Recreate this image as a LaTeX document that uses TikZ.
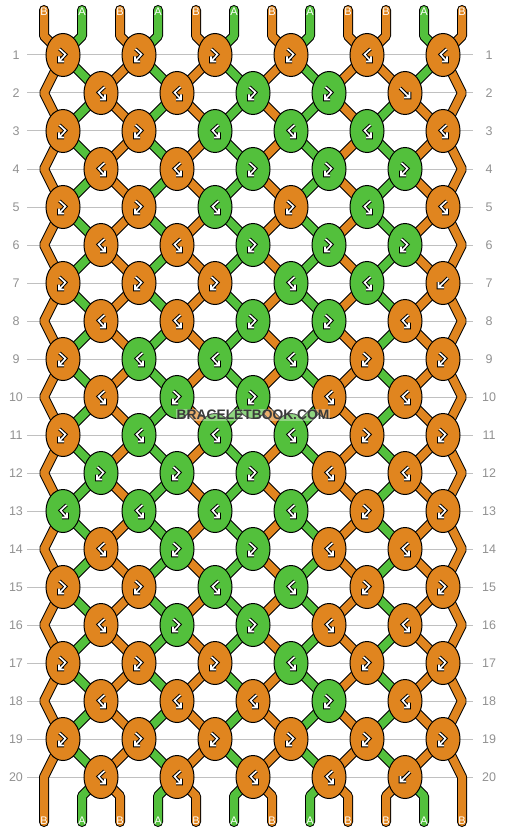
\documentclass[tikz,border=0pt]{standalone}
\usepackage{fontspec}
\setmainfont{Liberation Sans}
\usetikzlibrary{shapes.geometric,backgrounds}

\definecolor{B}{RGB}{224,133,31}
\definecolor{A}{RGB}{83,192,60}
\definecolor{rule}{RGB}{192,192,192}
\definecolor{numgray}{RGB}{145,145,145}
\definecolor{wmgray}{RGB}{58,58,58}

\begin{document}
\begin{tikzpicture}[x=1pt,y=-1pt,
    knot/.style={ellipse,draw=black,line width=1pt,inner sep=0pt,
      minimum width=34pt,minimum height=43pt},
    strand/.style={line join=bevel,line cap=round},
    rim/.style={draw=black,line width=10pt},
    core/.style={line width=8pt},
    guide/.style={draw=rule,line width=1pt},
    rownum/.style={text=numgray,font=\fontsize{12.5}{12.5}\selectfont},
    endname/.style={text=white,inner sep=0pt,font=\fontsize{11}{11}\selectfont},
    wmark/.style={text=wmgray,fill=white,fill opacity=0.35,text opacity=1,
      inner sep=1pt,font=\bfseries\fontsize{13.8}{13.8}\selectfont},
    arw/.style={draw=white,line width=1.6pt,
      preaction={draw=black,line width=3.6pt}},
    f/.pic={\path[arw] (-5,-5) -- (4.5,4.5) (4.5,-1) -- (4.5,4.5) -- (-1,4.5);},
    b/.pic={\path[arw] (5,-5) -- (-4.5,4.5) (-4.5,-1) -- (-4.5,4.5) -- (1,4.5);},
    fb/.pic={\path[arw] (-3.5,-6) -- (2.5,-0.5) -- (-4,6.5) (-4,1.5) -- (-4,6.5) -- (1,6.5);},
    bf/.pic={\path[arw] (3.5,-6) -- (-2.5,-0.5) -- (4,6.5) (4,1.5) -- (4,6.5) -- (-1,6.5);}]
  \useasboundingbox (0,0) rectangle (506,832);
  % string ends
  \foreach \p/\name in {1/B,2/A,3/B,4/A,5/B,6/A,7/B,8/A,9/B,10/B,11/A,12/B} {
    \coordinate (top-\p) at ({38*\p+6},10);
    \coordinate (s-0-\p) at ({38*\p+6},36);
    \coordinate (s-21-\p) at ({38*\p+6},796);
    \coordinate (bot-\p) at ({38*\p+6},822);
  }
  % turns at the edges
  \foreach \r in {2,4,...,20} {
    \coordinate (s-\r-1) at (44,{17+38*\r});
    \coordinate (s-\r-12) at (462,{17+38*\r});
  }
  % knots, row by row
  \foreach \r/\row in {
      1/{fb/B,fb/B,fb/B,fb/B,bf/B,bf/B},
      2/{bf/B,bf/B,fb/A,fb/A,f/B},
      3/{fb/B,fb/B,bf/A,bf/A,bf/A,bf/B},
      4/{bf/B,bf/B,fb/A,fb/A,fb/A},
      5/{fb/B,fb/B,bf/A,fb/B,bf/A,bf/B},
      6/{bf/B,bf/B,fb/A,fb/A,fb/A},
      7/{fb/B,fb/B,fb/B,bf/A,bf/A,b/B},
      8/{bf/B,bf/B,fb/A,fb/A,bf/B},
      9/{fb/B,bf/A,bf/A,bf/A,fb/B,fb/B},
      10/{bf/B,fb/A,fb/A,bf/B,bf/B},
      11/{fb/B,bf/A,bf/A,bf/A,fb/B,fb/B},
      12/{fb/A,fb/A,fb/A,bf/B,bf/B},
      13/{bf/A,bf/A,bf/A,bf/A,fb/B,fb/B},
      14/{bf/B,fb/A,fb/A,bf/B,bf/B},
      15/{fb/B,fb/B,bf/A,bf/A,fb/B,fb/B},
      16/{bf/B,fb/A,fb/A,bf/B,bf/B},
      17/{fb/B,fb/B,fb/B,bf/A,fb/B,fb/B},
      18/{bf/B,bf/B,bf/B,fb/A,bf/B},
      19/{fb/B,fb/B,fb/B,fb/B,fb/B,fb/B},
      20/{bf/B,bf/B,bf/B,bf/B,b/B}} {
    \pgfmathtruncatemacro\odd{mod(\r,2)}
    \foreach \t/\c [count=\j] in \row {
      \pgfmathtruncatemacro\pl{2*\j-\odd}
      \pgfmathtruncatemacro\pr{\pl+1}
      \node[knot,fill=\c] (k-\r-\j) at ({38*\pl+25},{17+38*\r}) {};
      \coordinate (s-\r-\pl) at (k-\r-\j.center);
      \coordinate (s-\r-\pr) at (k-\r-\j.center);
      \pic at (k-\r-\j) {\t};
    }
  }
  % row numbers
  \foreach \r in {1,...,20} {
    \node[rownum] (nl-\r) at (16,{17+38*\r}) {\r};
    \node[rownum] (nr-\r) at (489,{17+38*\r}) {\r};
  }
  \begin{pgfonlayer}{background}
    \foreach \r in {1,...,20}
      \draw[guide] (27,{17+38*\r}) -- (473,{17+38*\r});
    \foreach \pass in {rim,core}
      \foreach \p/\q/\c in {1/1/B,2/2/A,3/3/B,4/4/A,5/5/B,6/6/A,
          7/7/B,8/8/A,9/9/B,10/11/B,11/10/A,12/12/B}
        \draw[strand,color=\c,\pass] (top-\p) -- (s-0-\p) -- (s-1-\p) -- (s-2-\p)
          \foreach \r in {3,...,19} { -- (s-\r-\q) }
          -- (s-20-\p) -- (s-21-\p) -- (bot-\p);
  \end{pgfonlayer}
  % letters on the string ends
  \foreach \p/\name in {1/B,2/A,3/B,4/A,5/B,6/A,7/B,8/A,9/B,10/B,11/A,12/B} {
    \node[endname] (tn-\p) at ({38*\p+6},12) {\name};
    \node[endname] (bn-\p) at ({38*\p+6},821) {\name};
  }
  \node[wmark] (wm) at (253,415) {BRACELETBOOK.COM};
\end{tikzpicture}
\end{document}
